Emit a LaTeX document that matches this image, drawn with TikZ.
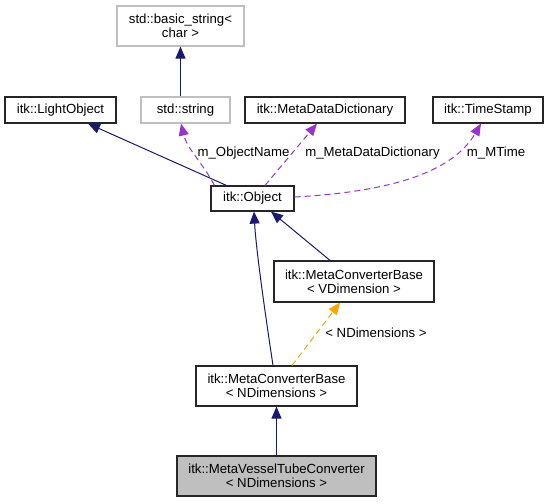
\documentclass[tikz,border=0pt]{standalone}
\usepackage{fontspec}
\setmainfont{Liberation Sans}
\usetikzlibrary{positioning,arrows.meta,calc}
\definecolor{inhblue}{RGB}{25,25,112}
\definecolor{usepurple}{RGB}{154,50,205}
\definecolor{tplorange}{RGB}{255,165,0}
\definecolor{boxgray}{RGB}{191,191,191}

\begin{document}
\begin{tikzpicture}[x=0.75pt,y=-0.75pt,
  every node/.style={font=\fontsize{9.9pt}{10.5pt}\selectfont,inner sep=0pt,align=center},
  sz/.style 2 args={minimum width=#1*0.75pt,minimum height=#2*0.75pt},
  cls/.style={draw=black!85,line width=0.9pt,fill=white},
  ext/.style={draw=boxgray,line width=0.9pt,fill=white},
  inh/.style={-{Triangle[length=9pt,width=7.5pt]},inhblue,line width=0.75pt},
  usage/.style={-{Triangle[length=9pt,width=7.5pt]},usepurple,line width=0.75pt,dash pattern=on 4.5pt off 3pt},
  tpl/.style={-{Triangle[length=9pt,width=7.5pt]},tplorange,line width=0.75pt,dash pattern=on 4.5pt off 3pt}]
  \useasboundingbox (0,0) rectangle (549,503);
  % classes
  \node[ext,sz={127}{40}] (bstr) at (180.5,26) {std::basic\_string<\\char >};
  \node[ext,sz={89}{26}] (str) at (185.5,110) {std::string};
  \node[cls,sz={111}{26}] (lobj) at (60.5,110) {itk::LightObject};
  \node[cls,sz={160}{26}] (mdd) at (325,110) {itk::MetaDataDictionary};
  \node[cls,sz={110}{26}] (tstamp) at (488,110) {itk::TimeStamp};
  \node[cls,sz={83}{25}] (obj) at (252.5,198.5) {itk::Object};
  \node[cls,sz={160}{41}] (mcbv) at (354,281.5) {itk::MetaConverterBase\\< VDimension >};
  \node[cls,sz={161}{40}] (mcbn) at (276.5,386) {itk::MetaConverterBase\\< NDimensions >};
  \node[cls,fill=boxgray,sz={199}{40}] (mvtc) at (276.5,476) {itk::MetaVesselTubeConverter\\< NDimensions >};
  % edges
  \draw[inh] (str.north -| bstr.south) -- (bstr.south);
  \draw[inh] ($(obj.north west)+(16,0)$) -- ($(lobj.south)+(27.5,0)$);
  \draw[usage] ($(obj.north west)+(4,0)$) .. controls +(-10,-20) and +(6,25) .. ($(str.south)+(-4.5,0)$);
  \draw[usage] ($(obj.north)+(12.5,0)$) -- ($(mdd.south)+(-8,0)$);
  \draw[usage] ($(obj.east)+(0,-1.5)$) .. controls +(90,-5) and +(-30,51) .. ($(tstamp.south)+(-7,0)$);
  \draw[inh] ($(mcbn.north)+(-3.5,0)$) .. controls +(-7,-46) and +(2,38) .. ($(obj.south)+(1.5,0)$);
  \draw[inh] ($(mcbv.north)+(-24,0)$) -- ($(obj.south)+(18.5,0)$);
  \draw[tpl] ($(mcbn.north)+(15.5,0)$) -- ($(mcbv.south)+(-14,0)$);
  \draw[inh] (mvtc) -- (mcbn);
  % labels
  \node (lname) at (243.5,153) {m\_ObjectName};
  \node (lmdd) at (372.5,153) {m\_MetaDataDictionary};
  \node (ltime) at (496,153) {m\_MTime};
  \node (ldim) at (376,333) {< NDimensions >};
\end{tikzpicture}
\end{document}
